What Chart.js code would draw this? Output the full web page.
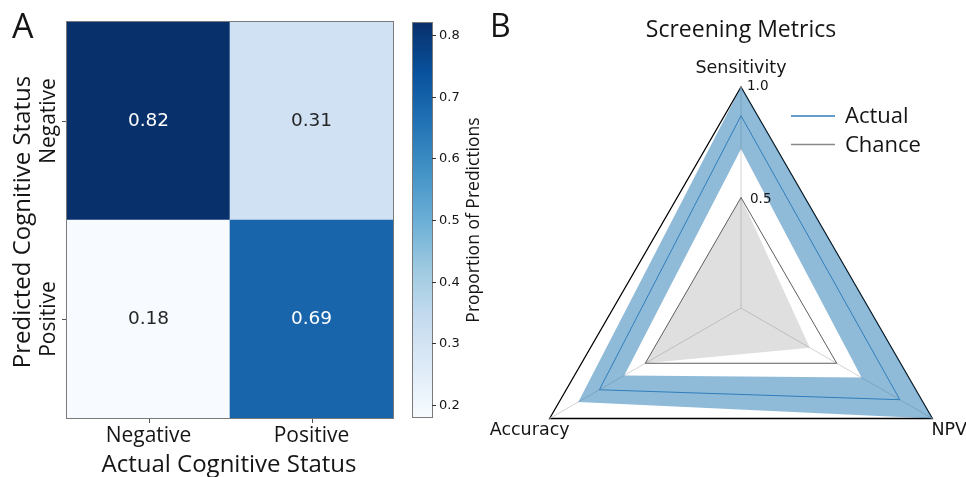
<!DOCTYPE html>
<html>
<head>
<meta charset="utf-8">
<script src="https://cdn.jsdelivr.net/npm/chart.js@4.4.1/dist/chart.umd.min.js"></script>
<style>
  html, body { margin: 0; padding: 0; background: #ffffff; overflow: hidden; width: 966px; height: 477px; }
  canvas { position: absolute; left: 0; top: 0; }
</style>
</head>
<body>
<canvas id="heat" width="966" height="477" style="width:966px;height:477px"></canvas>
<canvas id="cbar" width="966" height="477" style="width:966px;height:477px"></canvas>
<canvas id="radar" width="966" height="560" style="width:966px;height:560px"></canvas>
<script>
// ---- Panel A: confusion matrix (rows = predicted, columns = actual) ----
const actualStatus = ['Negative', 'Positive'];
const predictedNegative = [0.82, 0.31];
const predictedPositive = [0.18, 0.69];
const colorbarTicks = [0.2, 0.3, 0.4, 0.5, 0.6, 0.7, 0.8];

// ---- Panel B: screening metrics radar ----
const metricNames = ['Sensitivity', 'NPV', 'Accuracy'];
const actualScores = [0.87, 0.83, 0.74];
const actualUpper = [1.0, 1.0, 0.85];
const actualLower = [0.72, 0.63, 0.61];
const chanceScores = [0.5, 0.5, 0.5];
const chanceArea = [0.5, 0.36, 0.5];
const radarTicks = [0.5, 1.0];
const legendEntries = ['Actual', 'Chance'];

const SANS = '"Open Sans", "Noto Sans", sans-serif';
const DEJAVU = '"DejaVu Sans", sans-serif';
const INK = '#151515';

// matplotlib "Blues" colour map
const BLUES = [[247,251,255],[222,235,247],[198,219,239],[158,202,225],[107,174,214],
               [66,146,198],[33,113,181],[8,81,156],[8,48,107]];
function blues(t) {
  t = Math.max(0, Math.min(1, t));
  const p = t * (BLUES.length - 1);
  const i = Math.min(Math.floor(p), BLUES.length - 2);
  const f = p - i;
  const a = BLUES[i], b = BLUES[i + 1];
  const c = a.map((v, k) => Math.round(v + (b[k] - v) * f));
  return `rgb(${c[0]},${c[1]},${c[2]})`;
}
const allCells = predictedNegative.concat(predictedPositive);
const vmin = Math.min(...allCells);
const vmax = Math.max(...allCells);
const cellColor = v => blues((v - vmin) / (vmax - vmin));

function rotatedText(ctx, text, x, y, font) {
  ctx.save();
  ctx.translate(x, y);
  ctx.rotate(-Math.PI / 2);
  ctx.font = font;
  ctx.textAlign = 'center';
  ctx.textBaseline = 'alphabetic';
  ctx.fillText(text, 0, 0);
  ctx.restore();
}

// annotations, ticks and titles of the confusion matrix
const heatDecor = {
  id: 'heatDecor',
  afterDraw(chart) {
    const { ctx, chartArea: a, scales: { x } } = chart;
    ctx.save();
    ctx.textAlign = 'center';
    ctx.textBaseline = 'middle';
    ctx.font = '18.5px ' + DEJAVU;
    chart.data.datasets.forEach((ds, di) => {
      chart.getDatasetMeta(di).data.forEach((bar, j) => {
        const v = ds.cellValues[j];
        const c = bar.getCenterPoint();
        ctx.fillStyle = v > (vmin + vmax) / 2 ? '#ffffff' : '#262626';
        ctx.fillText(v.toFixed(2), c.x, c.y);
      });
    });

    // frame
    ctx.strokeStyle = '#7a7a7a';
    ctx.lineWidth = 1;
    ctx.strokeRect(a.left - 0.5, a.top - 0.5, a.width + 1, a.height + 1);

    // row ticks + labels
    ctx.strokeStyle = '#555';
    ctx.fillStyle = INK;
    chart.data.datasets.forEach((ds, di) => {
      const yc = chart.getDatasetMeta(di).data[0].getCenterPoint().y;
      ctx.beginPath();
      ctx.moveTo(a.left - 5, Math.round(yc) + 0.5);
      ctx.lineTo(a.left - 1, Math.round(yc) + 0.5);
      ctx.stroke();
      rotatedText(ctx, ds.label, 55, yc, '21px ' + SANS);
    });

    // column ticks + labels
    actualStatus.forEach((lab, j) => {
      const xc = x.getPixelForTick(j);
      ctx.beginPath();
      ctx.moveTo(Math.round(xc) + 0.5, a.bottom + 1);
      ctx.lineTo(Math.round(xc) + 0.5, a.bottom + 5);
      ctx.stroke();
      ctx.font = '21px ' + SANS;
      ctx.textAlign = 'center';
      ctx.textBaseline = 'alphabetic';
      ctx.fillText(lab, xc, 442);
    });

    // axis titles
    ctx.font = '24px ' + SANS;
    ctx.fillText('Actual Cognitive Status', (a.left + a.right) / 2 - 1, 472);
    rotatedText(ctx, 'Predicted Cognitive Status', 30, (a.top + a.bottom) / 2 + 2, '24px ' + SANS);

    // panel letter
    ctx.font = '34px ' + SANS;
    ctx.textAlign = 'left';
    ctx.fillText('A', 12, 38);
    ctx.restore();
  }
};

new Chart(document.getElementById('heat'), {
  type: 'bar',
  data: {
    labels: actualStatus,
    datasets: [
      { label: 'Positive', data: predictedPositive.map(() => 1), cellValues: predictedPositive,
        backgroundColor: predictedPositive.map(cellColor) },
      { label: 'Negative', data: predictedNegative.map(() => 1), cellValues: predictedNegative,
        backgroundColor: predictedNegative.map(cellColor) }
    ]
  },
  options: {
    responsive: false,
    animation: false,
    layout: { padding: { left: 67, top: 22, right: 966 - 393, bottom: 477 - 418 } },
    datasets: { bar: { categoryPercentage: 1, barPercentage: 1, borderWidth: 0 } },
    plugins: { legend: { display: false }, tooltip: { enabled: false }, title: { display: false } },
    scales: {
      x: { stacked: true, display: false },
      y: { stacked: true, display: false, min: 0, max: 2 }
    }
  },
  plugins: [heatDecor]
});

// ---- colour bar ----
const cbarDecor = {
  id: 'cbarDecor',
  afterDraw(chart) {
    const { ctx, chartArea: a, scales: { y } } = chart;
    ctx.save();
    ctx.strokeStyle = '#7a7a7a';
    ctx.lineWidth = 1;
    ctx.strokeRect(a.left - 0.5, a.top - 0.5, a.width + 1, a.height + 1);
    ctx.strokeStyle = '#333';
    ctx.fillStyle = INK;
    ctx.font = '13px ' + DEJAVU;
    ctx.textAlign = 'left';
    ctx.textBaseline = 'middle';
    colorbarTicks.forEach(t => {
      const py = Math.round(y.getPixelForValue(t)) + 0.5;
      ctx.beginPath();
      ctx.moveTo(a.right, py);
      ctx.lineTo(a.right + 4, py);
      ctx.stroke();
      ctx.fillText(t.toFixed(1), a.right + 7, py);
    });
    rotatedText(ctx, 'Proportion of Predictions', 479, (a.top + a.bottom) / 2, '17.5px ' + SANS);
    ctx.restore();
  }
};

new Chart(document.getElementById('cbar'), {
  type: 'bar',
  data: {
    labels: [''],
    datasets: [{
      data: [[vmin, vmax]],
      borderWidth: 0,
      backgroundColor: (c) => {
        const chart = c.chart;
        if (!chart.chartArea) return BLUES[0];
        const y = chart.scales.y;
        const g = chart.ctx.createLinearGradient(0, y.getPixelForValue(vmin), 0, y.getPixelForValue(vmax));
        BLUES.forEach((col, k) => g.addColorStop(k / (BLUES.length - 1), `rgb(${col.join(',')})`));
        return g;
      }
    }]
  },
  options: {
    responsive: false,
    animation: false,
    layout: { padding: { left: 413, top: 23, right: 966 - 432, bottom: 477 - 417 } },
    datasets: { bar: { categoryPercentage: 1, barPercentage: 1 } },
    plugins: { legend: { display: false }, tooltip: { enabled: false } },
    scales: {
      x: { display: false },
      y: { display: false, min: vmin, max: vmax }
    }
  },
  plugins: [cbarDecor]
});

// ---- radar ----
const radarDecor = {
  id: 'radarDecor',
  afterDraw(chart) {
    const { ctx } = chart;
    const r = chart.scales.r;
    ctx.save();
    ctx.fillStyle = INK;

    // metric labels at the triangle corners
    ctx.font = '17.5px ' + DEJAVU;
    ctx.textBaseline = 'alphabetic';
    const top = r.getPointPositionForValue(0, 1);
    ctx.textAlign = 'center';
    ctx.fillText(metricNames[0], top.x, top.y - 14);
    const right = r.getPointPositionForValue(1, 1);
    ctx.textAlign = 'left';
    ctx.fillText(metricNames[1], right.x - 1, right.y + 16.5);
    const left = r.getPointPositionForValue(2, 1);
    ctx.textAlign = 'right';
    ctx.fillText(metricNames[2], left.x + 20, left.y + 16.5);

    // radial tick labels
    ctx.font = '13.5px ' + DEJAVU;
    ctx.textAlign = 'left';
    radarTicks.forEach(t => {
      const p = r.getPointPositionForValue(0, t);
      ctx.fillText(t.toFixed(1), p.x + 6 + (1 - t) * 6, p.y + 3 + (1 - t) * 5);
    });

    // legend
    legendEntries.forEach((name, i) => {
      const d = chart.data.datasets.find(ds => ds.label === name);
      const ly = 116 + i * 28.5;
      ctx.strokeStyle = d.legendColor;
      ctx.lineWidth = 1.6;
      ctx.beginPath();
      ctx.moveTo(791, ly);
      ctx.lineTo(835, ly);
      ctx.stroke();
      ctx.font = '22px ' + SANS;
      ctx.fillStyle = INK;
      ctx.textAlign = 'left';
      ctx.fillText(d.label, 845, ly + 7);
    });

    // title and panel letter
    ctx.font = '23px ' + SANS;
    ctx.textAlign = 'center';
    ctx.fillText('Screening Metrics', top.x, 37);
    ctx.font = '32px ' + SANS;
    ctx.textAlign = 'left';
    ctx.fillText('B', 490, 37);
    ctx.restore();
  }
};

new Chart(document.getElementById('radar'), {
  type: 'radar',
  data: {
    labels: metricNames,
    datasets: [
      { label: 'Chance', data: chanceScores, fill: false, borderColor: '#5e5e5e', borderWidth: 1,
        legendColor: '#8a8a8a' },
      { label: 'Actual', data: actualScores, fill: false, borderColor: '#2f7dbb', borderWidth: 1,
        legendColor: '#2f7dbb' },
      { label: 'Chance area', data: chanceArea, fill: 'origin', borderWidth: 0,
        borderColor: 'rgba(0,0,0,0)', backgroundColor: 'rgba(128,128,128,0.25)' },
      { label: 'Upper', data: actualUpper, fill: '+1', borderWidth: 0,
        borderColor: 'rgba(0,0,0,0)', backgroundColor: 'rgba(31,119,180,0.5)' },
      { label: 'Lower', data: actualLower, fill: false, borderWidth: 0,
        borderColor: 'rgba(0,0,0,0)' }
    ]
  },
  options: {
    responsive: false,
    animation: false,
    layout: { padding: { left: 520, right: 966 - 962, top: 87, bottom: 560 - 529 } },
    elements: { line: { tension: 0 }, point: { radius: 0, hoverRadius: 0 } },
    plugins: { legend: { display: false }, tooltip: { enabled: false }, title: { display: false } },
    scales: {
      r: {
        z: 1,
        min: 0,
        max: 1,
        ticks: { display: false, stepSize: 0.5 },
        pointLabels: { display: false },
        angleLines: { display: true, color: '#d2d2d2', lineWidth: 1 },
        grid: {
          color: (c) => (c.tick && c.tick.value === 1 ? '#000000' : 'rgba(0,0,0,0)'),
          lineWidth: 1.3
        }
      }
    }
  },
  plugins: [radarDecor]
});
</script>
</body>
</html>
